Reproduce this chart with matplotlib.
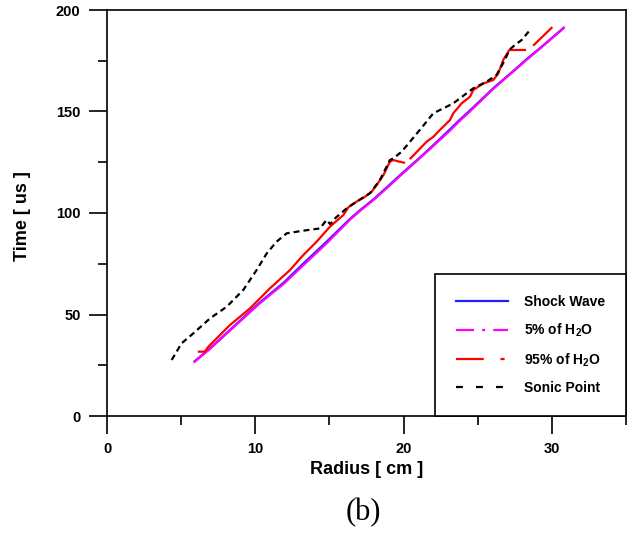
import matplotlib
matplotlib.use("Agg")
import matplotlib.pyplot as plt
from matplotlib.lines import Line2D
from matplotlib.ticker import MultipleLocator
import numpy as np

plt.rcParams["font.family"] = ["Liberation Sans", "DejaVu Sans"]
plt.rcParams["font.weight"] = "bold"
plt.rcParams["mathtext.fontset"] = "custom"
plt.rcParams["mathtext.rm"] = "Liberation Sans:bold"
plt.rcParams["mathtext.bf"] = "Liberation Sans:bold"
plt.rcParams["mathtext.it"] = "Liberation Sans:bold"
plt.rcParams["lines.scale_dashes"] = False

# Shock wave trajectory
shock_r = [5.9, 6.9, 8.5, 10.3, 11.9, 13.2, 14.8, 16.4, 17.1, 18.0, 19.1, 19.8,
           21.1, 22.0, 23.1, 23.8, 24.4, 25.6, 26.1, 27.6, 28.3, 29.2, 30.6, 30.8]
shock_t = [26.9, 33.0, 43.8, 55.9, 65.6, 74.8, 85.8, 97.2, 101.6, 106.9, 114.2, 118.9,
           127.3, 133.4, 141.0, 146.0, 150.0, 158.3, 161.8, 171.2, 175.8, 181.2, 190.0, 191.2]

# 5% H2O mass-fraction front
h2o5_r = [5.9, 6.9, 8.5, 10.3, 11.9, 13.2, 14.8, 16.4, 17.1, 18.0, 19.1, 19.8,
          21.1, 22.0, 23.1, 23.8, 24.4, 25.6, 26.1, 27.6, 28.3, 29.2, 30.6, 30.8]
h2o5_t = [26.7, 32.8, 43.5, 55.5, 65.0, 74.0, 85.0, 96.8, 101.3, 106.6, 113.8, 118.5,
          127.0, 133.0, 140.4, 145.5, 149.5, 158.0, 161.5, 171.0, 175.5, 181.0, 189.8, 191.2]

# 95% H2O mass-fraction front (NaN marks breaks in the trace)
h2o95_r = [6.2, 6.6, 6.83, 8.29, 9.64, 10.99, 12.34, 13.24, 14.14, 15.04, 15.94, 16.27,
           16.83, 17.4, 17.85, 18.19, 18.64, 19.08, 19.31, 19.6, 20.03, np.nan,
           20.47, 21.55, 22.0, 22.45, 23.13, 23.35, 23.91, 24.48, 24.7, 25.38, 26.05,
           26.39, 26.72, 27.13, 28.19, np.nan, 28.79, 29.98]
h2o95_t = [31.7, 31.7, 34.1, 44.8, 53.0, 62.9, 71.9, 79.3, 85.9, 93.3, 99.0, 102.8,
           105.6, 108.0, 110.5, 113.8, 118.7, 125.3, 126.1, 125.5, 124.8, np.nan,
           126.9, 135.1, 137.5, 140.9, 145.8, 149.1, 154.0, 157.3, 160.6, 163.8, 165.5,
           168.8, 175.4, 180.3, 180.3, np.nan, 182.8, 191.2]

# Sonic point trajectory
sonic_r = [4.36, 5.03, 5.82, 6.95, 8.07, 9.19, 10.09, 10.77, 11.44, 12.12, 13.24, 14.36,
           14.81, 15.05, 15.4, 16.16, 16.83, 17.73, 18.41, 19.08, 19.31, 19.87, 20.43,
           21.0, 21.55, 22.0, 23.35, 23.8, 24.7, 25.6, 26.27, 26.72, 27.17, 27.51, 27.96, 28.52]
sonic_t = [27.6, 35.8, 40.7, 48.1, 53.8, 62.1, 71.9, 80.1, 85.9, 90.0, 91.3, 92.4,
           96.6, 94.5, 97.5, 102.3, 105.6, 109.7, 116.3, 126.1, 126.9, 130.2, 135.1,
           140.1, 145.0, 149.1, 154.0, 156.5, 161.4, 164.7, 168.0, 173.9, 180.6, 182.8, 185.2, 190.1]

labels = ["Shock Wave", "5% of H$_2$O", "95% of H$_2$O", "Sonic Point"]
colors = ["#1f1fff", "#ff00ff", "#ff0000", "#000000"]

W, H = 630, 533
fig = plt.figure(figsize=(W / 100, H / 100), dpi=100)
ax = fig.add_axes([107 / W, 117 / H, 519 / W, 406 / H])

lw = 1.6
ax.plot(shock_r, shock_t, color=colors[0], lw=lw, zorder=2)
ax.plot(h2o5_r, h2o5_t, color=colors[1], lw=lw, zorder=3)
ax.plot(h2o95_r, h2o95_t, color=colors[2], lw=lw, zorder=4)
ax.plot(sonic_r, sonic_t, color=colors[3], lw=lw, dashes=(4.3, 2.9), zorder=5)

ax.set_xlim(0, 35)
ax.set_ylim(0, 200)
ax.xaxis.set_major_locator(MultipleLocator(10))
ax.xaxis.set_minor_locator(MultipleLocator(5))
ax.yaxis.set_major_locator(MultipleLocator(50))
ax.yaxis.set_minor_locator(MultipleLocator(25))

for s in ax.spines.values():
    s.set_linewidth(1.2)
ax.tick_params(which="major", direction="out", length=13, width=1.2,
               labelsize=10.5, top=False, right=False)
ax.tick_params(which="minor", direction="out", length=6.5, width=1.2,
               top=False, right=False)
ax.tick_params(axis="x", which="major", pad=6)
ax.tick_params(axis="y", which="major", pad=6)
for lab in ax.get_xticklabels() + ax.get_yticklabels():
    lab.set_fontweight("bold")

ax.set_xlabel("Radius [ cm ]", fontsize=13, fontweight="bold", labelpad=0)
ax.set_ylabel("Time [ us ]", fontsize=13, fontweight="bold")
ax.xaxis.set_label_coords(0.5, (416 - 470) / 406, transform=ax.transAxes)
ax.yaxis.set_label_coords((23 - 107) / 519, (416 - 216) / 406, transform=ax.transAxes)
ax.xaxis.label.set_va("center")
ax.yaxis.label.set_va("center")

handles = [
    Line2D([], [], color=colors[0], lw=lw),
    Line2D([], [], color=colors[1], lw=lw, dashes=(13, 5.8, 2.2, 5.8)),
    Line2D([], [], color=colors[2], lw=lw, dashes=(20, 12, 3, 14)),
    Line2D([], [], color=colors[3], lw=lw, dashes=(5, 9.4)),
]
leg = ax.legend(handles, labels, loc="lower right",
                bbox_to_anchor=(1.0, 0), borderaxespad=0,
                prop={"weight": "bold", "size": 10}, frameon=True, fancybox=False,
                edgecolor="black", framealpha=1, borderpad=1.5,
                labelspacing=0.9, handlelength=3.74, handletextpad=1.15)
leg.get_frame().set_linewidth(1.2)

fig.text(363 / W, 1 - 513 / H, "(b)", family="Liberation Serif", fontweight="normal",
         fontsize=22, ha="center", va="center")

fig.savefig("out.png", dpi=100)
